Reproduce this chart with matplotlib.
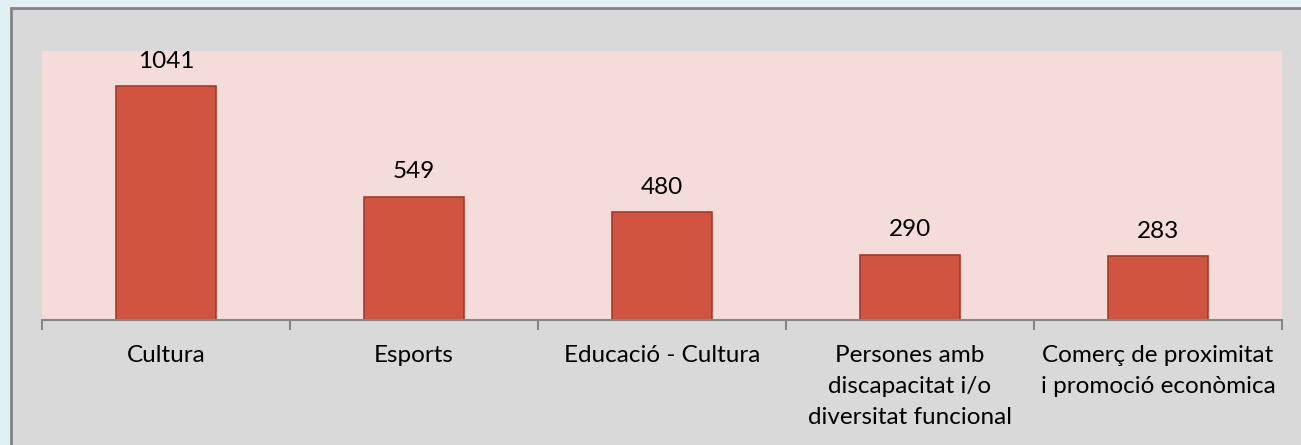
import matplotlib.pyplot as plt
from matplotlib.patches import Rectangle

categories = ['Cultura', 'Esports', 'Educació - Cultura',
              'Persones amb\ndiscapacitat i/o\ndiversitat funcional',
              'Comerç de proximitat\ni promoció econòmica']
values = [1041, 549, 480, 290, 283]

W, H = 1301, 445
plt.rcParams['font.family'] = ['Lato', 'DejaVu Sans']

fig = plt.figure(figsize=(W / 100, H / 100), dpi=100)
fig.patch.set_facecolor('#e1f1f3')

# grey chart panel with border on top/left
panel = Rectangle((11 / W, -0.05), 1.2, (H - 8) / H + 0.05,
                  transform=fig.transFigure, facecolor='#d9d9d9',
                  edgecolor='#848484', linewidth=2, zorder=-10)
fig.patches.append(panel)

ax = fig.add_axes([42 / W, (H - 320) / H, 1240 / W, (320 - 51) / H])
ax.set_facecolor('#f3dcd9')

x = range(len(values))
bars = ax.bar(x, values, width=0.403, color='#d05440',
              edgecolor='#a33a2b', linewidth=1.2)
for b, v in zip(bars, values):
    ax.annotate(str(v), (b.get_x() + b.get_width() / 2, v),
                xytext=(0, 18), textcoords='offset points',
                ha='center', va='center', fontsize=17.5)

ax.set_xlim(-0.5, len(values) - 0.5)
ax.set_ylim(0, 1197)
ax.set_yticks([])
for s in ['top', 'right', 'left']:
    ax.spines[s].set_visible(False)
ax.spines['bottom'].set_color('#868686')
ax.spines['bottom'].set_linewidth(1.5)

ax.set_xticks(list(x))
ax.set_xticklabels(categories, fontsize=17.5, linespacing=1.6)
ax.tick_params(axis='x', which='major', length=0, pad=18)
ax.set_xticks([i - 0.5 for i in range(len(values) + 1)], minor=True)
ax.tick_params(axis='x', which='minor', length=7, width=1.5, color='#868686')

fig.savefig('out.png', dpi=100, facecolor=fig.get_facecolor())
